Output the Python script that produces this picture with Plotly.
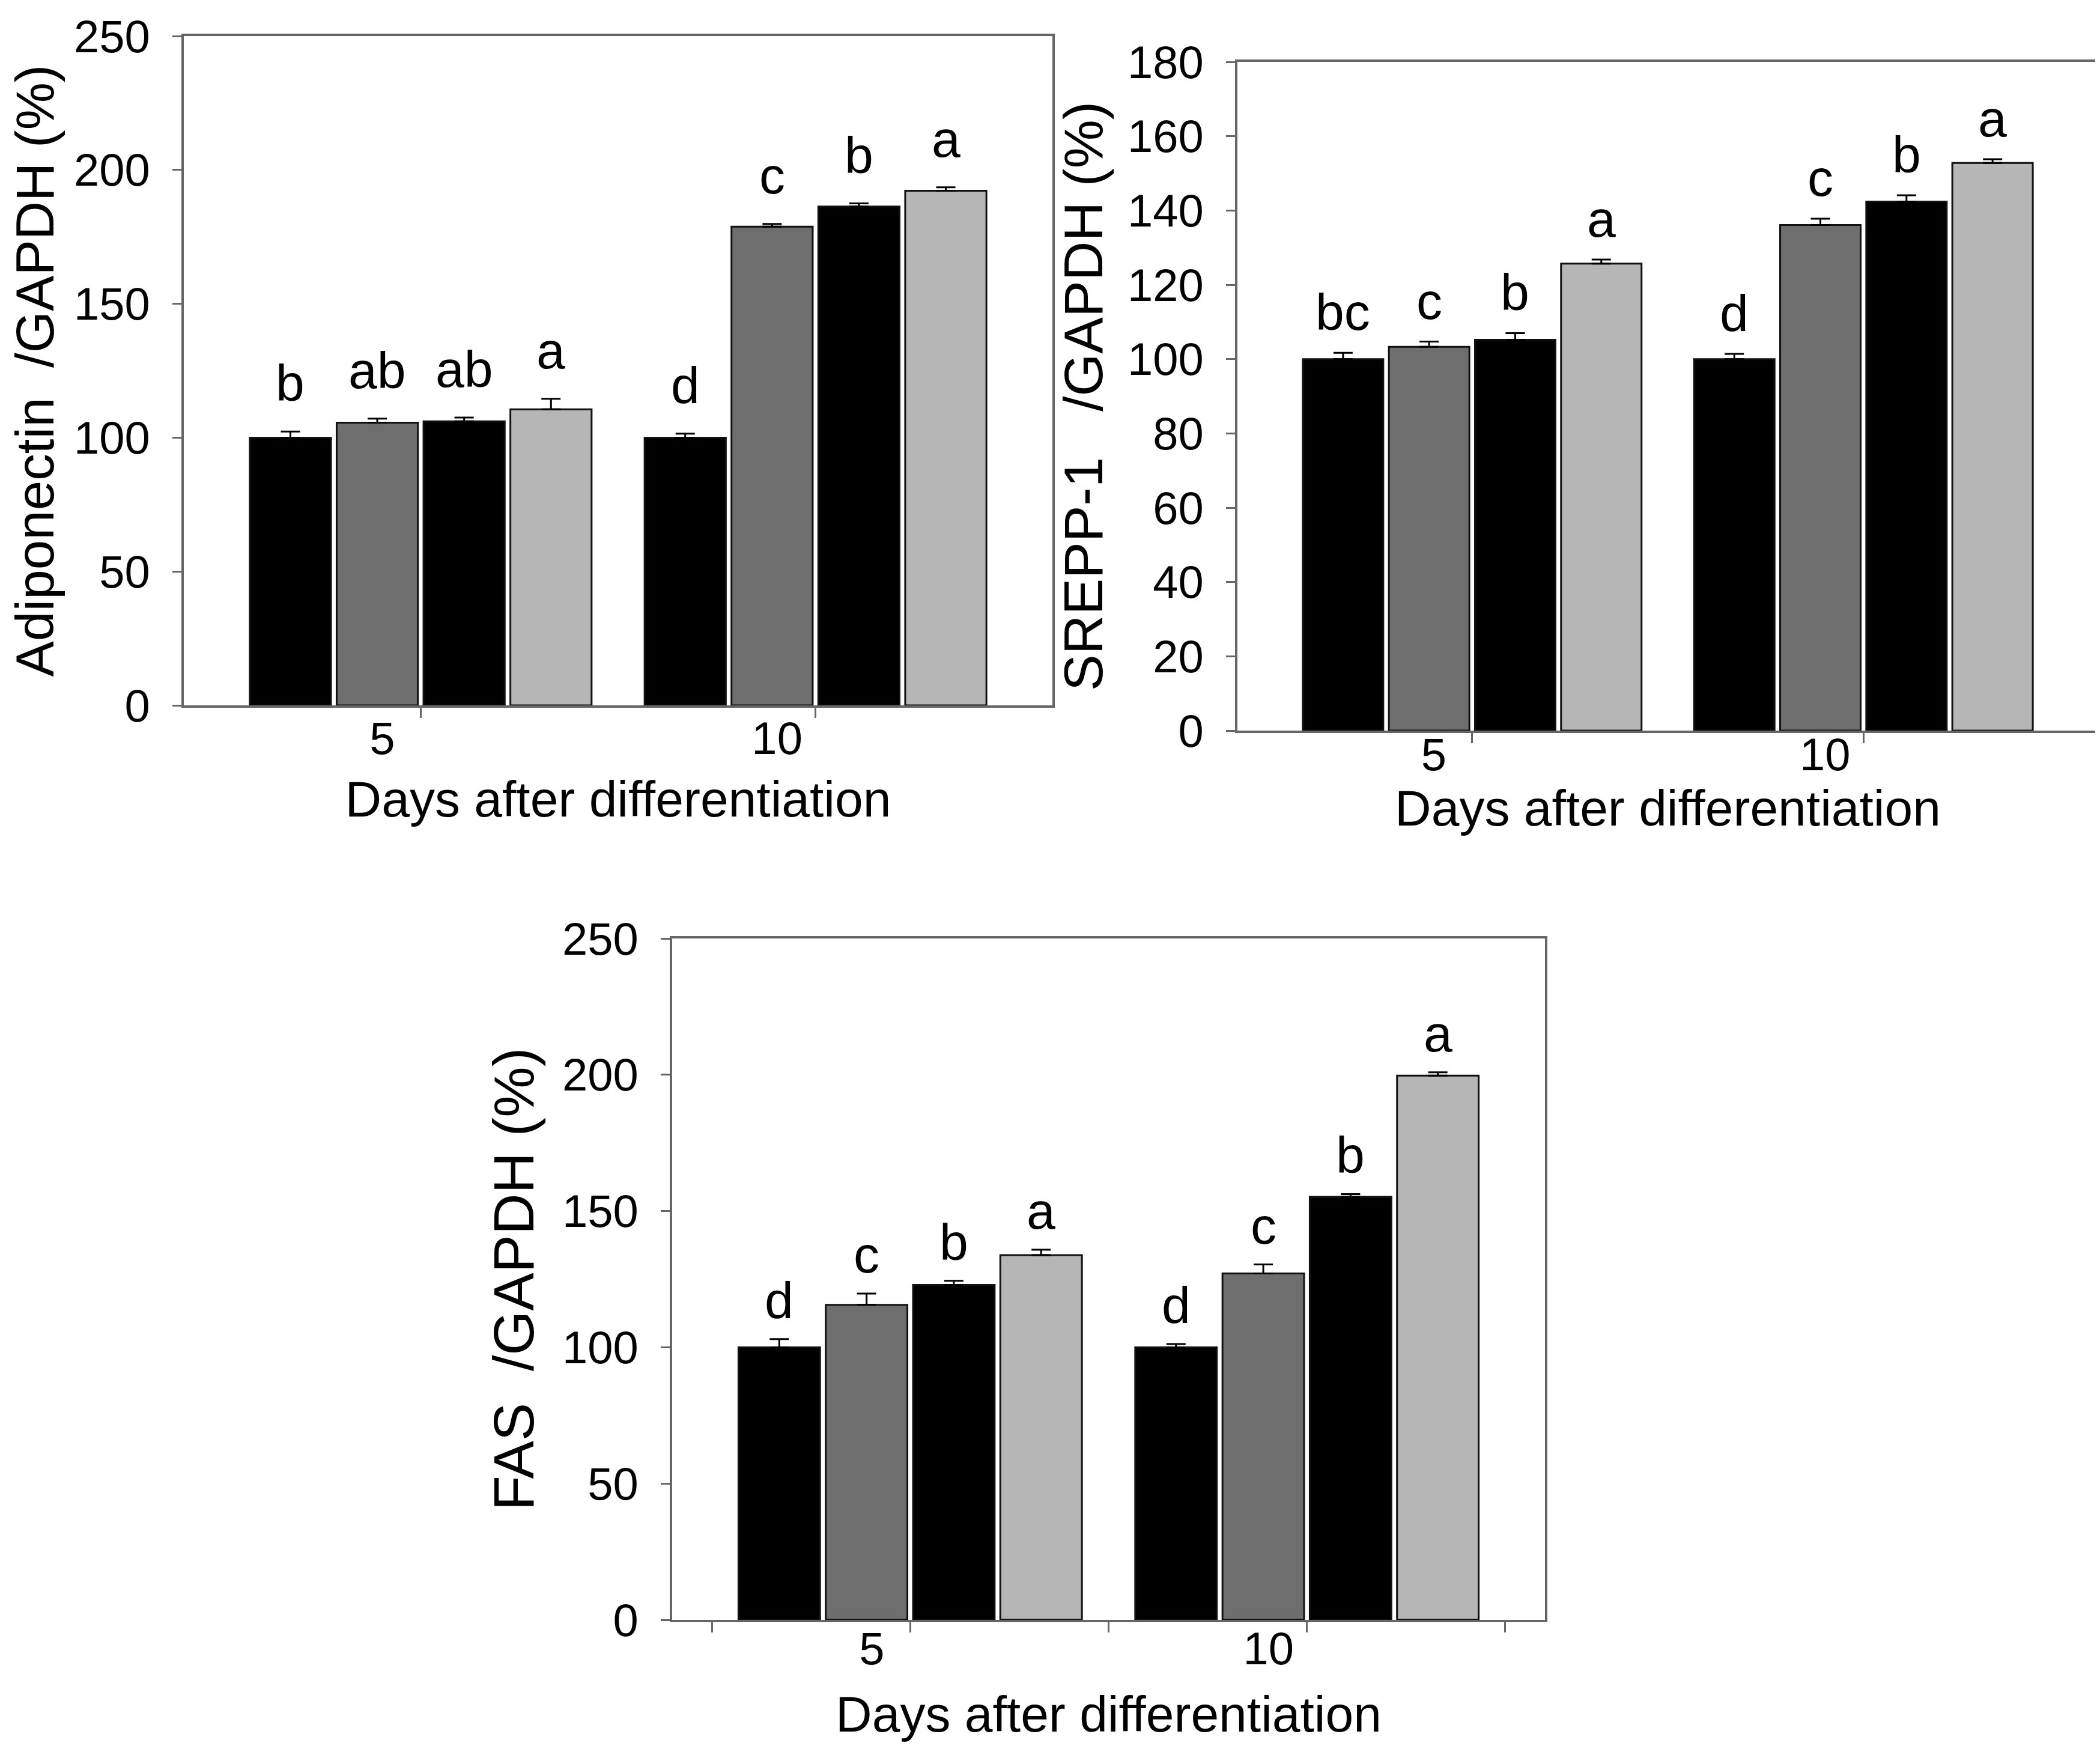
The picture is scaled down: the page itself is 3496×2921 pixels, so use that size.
import plotly.graph_objects as go

# groups on the x axis
days = ["5", "10"]
bar_colors = ["#000000", "#6e6e6e", "#000000", "#b6b6b6"]

# Adiponectin / GAPDH (%), one list per bar series, values for day 5 and day 10
adipo_means = [[100.0, 100.0], [105.6, 178.8], [106.1, 186.3], [110.6, 192.2]]
adipo_errs = [[2.3, 1.5], [1.5, 1.0], [1.4, 1.2], [3.9, 1.3]]
adipo_letters = [["b", "d"], ["ab", "c"], ["ab", "b"], ["a", "a"]]

# SREPP-1 / GAPDH (%)
srepp_means = [[100.0, 100.0], [103.3, 136.1], [105.2, 142.4], [125.7, 152.8]]
srepp_errs = [[1.7, 1.4], [1.4, 1.7], [1.8, 1.7], [1.1, 1.0]]
srepp_letters = [["bc", "d"], ["c", "c"], ["b", "b"], ["a", "a"]]

# FAS / GAPDH (%)
fas_means = [[100.0, 100.0], [115.6, 127.1], [122.9, 155.2], [133.8, 199.7]]
fas_errs = [[3.0, 1.2], [4.1, 3.3], [1.5, 1.0], [2.0, 1.2]]
fas_letters = [["d", "d"], ["c", "c"], ["b", "b"], ["a", "a"]]

W, H = 3496, 2921
BARGAP = 0.12
AXIS_GREY = "#666666"
NBSP = "\u00a0"
TICK_FONT = dict(family="Liberation Sans, Arial", size=76, color="black")
TITLE_FONT = dict(family="Liberation Sans, Arial", size=84, color="black")
LETTER_FONT = dict(family="Liberation Sans, Arial", size=86, color="black")


def ytitle_font(size):
    return dict(family="Liberation Sans, Arial", size=size, color="black")


panels = [
    dict(ax="", means=adipo_means, errs=adipo_errs, letters=adipo_letters,
         ytitle="Adiponectin" + NBSP + " /GAPDH (%)", ytitle_size=89, ymax=250, dtick=50,
         box=(298, 1744, 52, 1166), boundary_ticks=False, letter_shift=31,
         ystand=67, xstand=31, label_standoff=-31),
    dict(ax="2", means=srepp_means, errs=srepp_errs, letters=srepp_letters,
         ytitle="SREPP-1" + NBSP * 2 + " /GAPDH (%)", ytitle_size=91, ymax=180, dtick=20,
         box=(2052, 3485, 95, 1208), boundary_ticks=False, letter_shift=18,
         ystand=12, xstand=0, label_standoff=-46),
    dict(ax="3", means=fas_means, errs=fas_errs, letters=fas_letters,
         ytitle="FAS" + NBSP + " /GAPDH (%)", ytitle_size=95, ymax=250, dtick=50,
         box=(1111, 2564, 1554, 2688), boundary_ticks=True, letter_shift=15,
         ystand=17, xstand=39, label_standoff=-38),
]

positions = list(range(len(days)))
fig = go.Figure()
annotations = []
layout = {}

for p in panels:
    xa, ya = "x" + p["ax"], "y" + p["ax"]
    for k in range(len(bar_colors)):
        fig.add_trace(go.Bar(
            x=positions, y=p["means"][k], xaxis=xa, yaxis=ya,
            marker=dict(color=bar_colors[k], line=dict(color="#111111", width=3)),
            error_y=dict(type="data", array=p["errs"][k], arrayminus=[0] * len(days),
                         symmetric=False, color="black", thickness=3, width=16),
            showlegend=False, hoverinfo="skip",
        ))
        slot = (1 - BARGAP) / len(bar_colors)
        for i in positions:
            annotations.append(dict(
                x=i + (k - 1.5) * slot, y=p["means"][k][i] + p["errs"][k][i],
                xref=xa, yref=ya, text=p["letters"][k][i], showarrow=False,
                yanchor="bottom", yshift=p["letter_shift"], font=LETTER_FONT,
            ))

    x0, x1, y0, y1 = p["box"]
    if p["boundary_ticks"]:
        tickvals = [-0.5, 0, 0.5, 1, 1.5]
        ticktext = ["", days[0], "", days[1], ""]
    else:
        tickvals = positions
        ticktext = days
    layout["xaxis" + p["ax"]] = dict(
        domain=[x0 / W, x1 / W], anchor=ya, range=[-0.6, 1.6], automargin=False,
        tickmode="array", tickvals=tickvals, ticktext=ticktext,
        ticks="outside", ticklen=17, tickwidth=3, tickcolor=AXIS_GREY,
        showline=True, linecolor=AXIS_GREY, linewidth=4, mirror=True,
        showgrid=False, zeroline=False, tickfont=TICK_FONT,
        ticklabelshift=-64, ticklabelstandoff=p["label_standoff"],
        title=dict(text="Days after differentiation", font=TITLE_FONT, standoff=p["xstand"]),
    )
    layout["yaxis" + p["ax"]] = dict(
        domain=[1 - y1 / H, 1 - y0 / H], anchor=xa, range=[0, p["ymax"]], automargin=False,
        dtick=p["dtick"], ticks="outside", ticklen=15, tickwidth=3, tickcolor=AXIS_GREY,
        showline=True, linecolor=AXIS_GREY, linewidth=4, mirror=True,
        showgrid=False, zeroline=False, tickfont=TICK_FONT, ticklabelstandoff=22,
        title=dict(text=p["ytitle"], font=ytitle_font(p["ytitle_size"]), standoff=p["ystand"]),
    )

fig.update_layout(
    width=W, height=H,
    margin=dict(l=0, r=0, t=0, b=0, pad=0),
    paper_bgcolor="white", plot_bgcolor="white",
    barmode="group", bargap=BARGAP, bargroupgap=0.065,
    annotations=annotations,
    **layout,
)

fig.write_html("out.html", config={"displayModeBar": False})
